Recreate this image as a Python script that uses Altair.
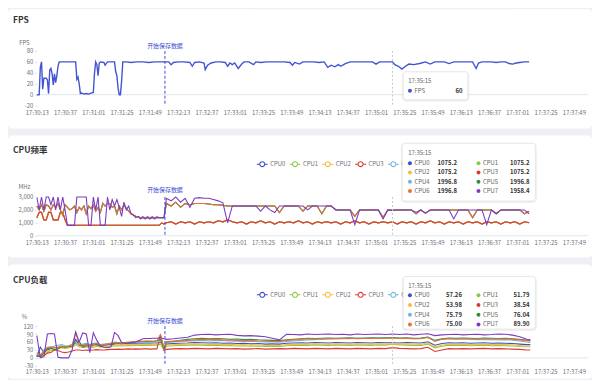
import altair as alt
import pandas as pd

FONT = "Noto Sans CJK SC"

# ---------------- time axis (seconds after 17:30:13) ----------------
X_MAX = 468
x_tick_secs = list(range(0, 457, 24))
TIME_EXPR = "timeFormat(datetime(2024, 0, 1, 17, 30, 13 + datum.value), '%H:%M:%S')"
TIP_T = 302
TIP_LABEL = "17:35:15"
MARK_T = 108.8
MARK_LABEL = "开始保存数据"

# ---------------- FPS ----------------
fps_t = [0, 2, 3, 4, 5, 6, 8, 9, 10, 11,
         12, 13, 14, 15, 16, 17, 18, 19, 22, 26,
         30, 33, 34, 35, 36, 37, 38, 40, 42, 44,
         46, 48, 49, 50, 51, 52, 53, 54, 57, 58,
         60, 63, 66, 67, 68, 69, 70, 71, 72, 73,
         76, 80, 85, 90, 95, 100, 105, 109, 112, 114,
         116, 120, 125, 130, 132, 134, 138, 142, 143, 145,
         148, 152, 156, 160, 162, 164, 166, 168, 171, 174,
         176, 180, 184, 186, 190, 195, 200, 205, 210, 215,
         217, 219, 223, 226, 230, 235, 240, 244, 247, 250,
         253, 256, 258, 262, 266, 270, 275, 280, 285, 288,
         291, 295, 300, 302, 304, 307, 310, 313, 316, 320,
         325, 330, 334, 338, 342, 346, 350, 354, 358, 362,
         366, 370, 373, 375, 378, 382, 386, 390, 394, 398,
         401, 404, 407, 410, 414, 418]
fps_v = [0, 0, 50, 60, 10, 30, 30, 27, 2, 45,
         48, 38, 18, 38, 22, 35, 52, 60, 60, 60,
         60, 60, 28, 32, 20, 2, 3, 1, 2, 1,
         3, 4, 40, 60, 55, 35, 58, 60, 59, 54,
         60, 60, 60, 42, 35, 12, 0, 0, 25, 60,
         60, 59, 60, 60, 59, 60, 60, 60, 60, 55,
         59, 60, 60, 59, 52, 59, 60, 58, 46, 54,
         58, 60, 60, 59, 52, 58, 55, 58, 48, 56,
         60, 60, 55, 60, 59, 60, 60, 60, 60, 59,
         54, 59, 56, 60, 60, 60, 59, 60, 50, 54,
         51, 55, 52, 57, 60, 60, 60, 60, 60, 56,
         60, 60, 60, 60, 55, 52, 47, 52, 56, 55,
         57, 60, 56, 60, 60, 60, 57, 60, 60, 60,
         60, 60, 48, 58, 60, 60, 60, 59, 60, 60,
         57, 56, 58, 59, 60, 60]

# ---------------- CPU series ----------------
cpu_names = ["CPU0", "CPU1", "CPU2", "CPU3", "CPU4", "CPU5", "CPU6", "CPU7"]
cpu_colors = ["#3d4fc4", "#8cc84b", "#f5bd3c", "#dc3b33",
              "#72b5e0", "#2f8f46", "#ec7033", "#7c3cc0"]
FPS_COLOR = "#4154d1"

# CPU frequency (MHz). CPU0-3 share one clock, CPU4-6 another, CPU7 its own.
freq_little_t = [0, 2, 4, 6, 8, 10, 12, 14, 16, 18, 20, 22, 24, 26, 104, 106, 108] + list(range(110, 419, 4))
freq_little_v = [1382.4, 1804.8, 1804.8, 1228.8, 1228.8, 1804.8, 1804.8, 1228.8, 1228.8, 1228.8,
                 1804.8, 1804.8, 1228.8, 806.4, 806.4, 998.4, 902.4] + [
    998.4, 1075.2, 902.4, 1075.2, 998.4, 1075.2, 902.4, 1075.2, 998.4, 1075.2,
    998.4, 1152.0, 1075.2, 1228.8, 1075.2, 998.4, 1075.2, 902.4, 1075.2, 998.4,
    1152.0, 998.4, 1075.2, 902.4, 1075.2, 998.4, 1075.2, 998.4, 1152.0, 998.4,
    1075.2, 902.4, 1075.2, 998.4, 1075.2, 998.4, 1075.2, 902.4, 1075.2, 998.4,
    1152.0, 998.4, 1075.2, 902.4, 1075.2, 998.4, 1075.2, 998.4, 1075.2, 902.4,
    1075.2, 998.4, 1075.2, 902.4, 1075.2, 998.4, 1152.0, 998.4, 1075.2, 902.4,
    1075.2, 998.4, 1075.2, 902.4, 1075.2, 998.4, 1075.2, 902.4, 1075.2, 998.4,
    1075.2, 902.4, 1075.2, 998.4, 1075.2, 902.4, 1075.2, 998.4]

freq_grid_t = list(range(0, 109, 2)) + list(range(110, 419, 4))
freq_big_v = [
    2300, 2000, 2400, 1900, 2400, 2300, 2000, 2400, 2200, 2500,
    2000, 1600, 2400, 2200, 2000, 2100, 2300, 1800, 2200, 2000,
    2300, 1700, 2300, 2100, 2400, 1900, 2200, 1800, 2500, 2300,
    2500, 2500, 2200, 2300, 1700, 2300, 2000, 2400, 2100, 1900,
    1700, 1600, 1500, 1450, 1400, 1420, 1400, 1420, 1400, 1420,
    1400, 1420, 1400, 1400, 1400] + [
    2500, 2300, 2600, 2200, 2500, 2400, 2500, 2500, 2500, 2450,
    2400, 2400, 2350, 2300, 2304, 2304, 2304, 2304, 2304, 2304,
    2304, 2304, 2304, 2304, 1800, 2304, 2304, 2304, 2304, 1900,
    2304, 2304, 2304, 1700, 2304, 2304, 1996.8, 1996.8, 1996.8, 1996.8,
    1500, 1996.8, 1996.8, 1996.8, 1996.8, 1996.8, 1400, 1996.8, 1996.8, 1996.8,
    1996.8, 1996.8, 1996.8, 1700, 1996.8, 1750, 1996.8, 1996.8, 1996.8, 1996.8,
    1996.8, 1996.8, 1996.8, 1996.8, 1996.8, 1400, 1996.8, 1996.8, 1996.8, 1996.8,
    1700, 1996.8, 1996.8, 1996.8, 1996.8, 1996.8, 1700, 1900]
freq_prime_v = [
    3000, 2000, 3000, 2000, 3000, 3000, 2400, 3000, 2000, 3000,
    2000, 3000, 2000, 800, 800, 800, 800, 3000, 3000, 3000,
    3000, 3000, 800, 800, 3000, 2000, 3000, 800, 800, 800,
    3000, 2000, 2800, 2300, 2800, 2200, 1500, 2600, 2000, 2300,
    1700, 1600, 1400, 1500, 1300, 1450, 1300, 1450, 1300, 1450,
    1300, 1450, 1400, 1400, 1400] + [
    2900, 2700, 3000, 2600, 2900, 2200, 2900, 2950, 2900, 2900,
    2800, 2700, 2550, 1000, 2304, 2304, 2304, 2304, 2304, 2304,
    1900, 2304, 2000, 1800, 2304, 2304, 2304, 2304, 2304, 2304,
    2000, 2304, 2304, 2304, 2304, 2304, 1996.8, 1996.8, 1996.8, 1996.8,
    850, 1996.8, 1996.8, 1996.8, 1996.8, 1996.8, 1300, 1996.8, 1958.4, 1996.8,
    1996.8, 1996.8, 1996.8, 1800, 1996.8, 1750, 1996.8, 1996.8, 1996.8, 1996.8,
    1996.8, 1300, 1996.8, 1996.8, 1996.8, 1996.8, 1996.8, 1996.8, 850, 1996.8,
    1700, 1996.8, 1996.8, 1996.8, 1996.8, 1996.8, 1996.8, 1700]

# CPU load (%)
load_t = list(range(0, 109, 3)) + list(range(110, 417, 6)) + [419]
load_cpu0 = [5, 40, 20, 30, 35, 38, 40, 42, 40, 44, 45, 70, 48, 46, 50, 44, 48, 50, 46, 48,
             50, 50, 52, 54, 52, 54, 55, 54, 55, 56, 55, 56, 55, 56, 56, 60, 30] + [
    52, 54, 55, 56, 58, 57, 56, 57, 55, 56, 54, 55, 53, 54, 52, 53, 52, 55, 56, 57,
    56, 58, 57, 56, 58, 57, 56, 58, 57, 56, 58, 57, 57.26, 56, 58, 57, 56, 61, 48, 54,
    57, 56, 57, 55, 56, 57, 55, 56, 55, 54, 52, 50, 50]
load_cpu1 = [8, 10, 12, 20, 28, 30, 34, 38, 36, 38, 40, 50, 42, 40, 42, 38, 40, 44, 40, 42,
             43, 44, 45, 46, 45, 46, 47, 46, 47, 48, 47, 48, 47, 48, 48, 52, 28] + [
    44, 46, 47, 48, 49, 48, 47, 48, 46, 47, 45, 46, 44, 45, 43, 44, 43, 46, 47, 48,
    47, 49, 48, 47, 49, 48, 47, 49, 48, 47, 49, 48, 51.79, 49, 48, 47, 47, 52, 38, 44,
    48, 47, 48, 46, 47, 48, 46, 47, 46, 45, 43, 42, 42]
load_cpu2 = [10, 5, 15, 25, 30, 35, 38, 40, 38, 40, 42, 55, 44, 42, 45, 40, 44, 46, 42, 44,
             45, 46, 48, 50, 48, 50, 50, 51, 50, 51, 50, 52, 51, 52, 51, 55, 30] + [
    48, 50, 51, 52, 53, 52, 51, 52, 50, 51, 49, 50, 48, 49, 47, 48, 47, 50, 51, 52,
    51, 53, 52, 51, 53, 52, 51, 53, 52, 51, 53, 52, 53.98, 52, 53, 52, 51, 56, 42, 48,
    52, 51, 52, 50, 51, 52, 50, 51, 50, 49, 47, 45, 45]
load_cpu3 = [5, 6, 8, 18, 20, 30, 28, 22, 20, 22, 26, 30, 30, 28, 30, 29, 30, 31, 30, 30,
             31, 32, 32, 33, 32, 33, 34, 33, 34, 33, 34, 34, 33, 34, 34, 88, 28] + [
    32, 34, 35, 34, 36, 35, 34, 36, 35, 34, 35, 33, 34, 35, 33, 34, 35, 34, 36, 35,
    34, 36, 35, 34, 36, 35, 34, 36, 35, 34, 36, 35, 38.54, 36, 35, 34, 35, 40, 24, 30,
    35, 34, 35, 34, 35, 36, 34, 35, 34, 33, 32, 30, 30]
load_cpu4 = [15, 8, 30, 38, 40, 45, 48, 50, 46, 45, 50, 55, 50, 52, 55, 50, 55, 56, 50, 52,
             54, 55, 56, 58, 56, 57, 58, 57, 58, 58, 57, 58, 57, 58, 58, 65, 34] + [
    58, 60, 62, 63, 65, 66, 64, 66, 65, 64, 63, 62, 63, 61, 60, 60, 59, 62, 64, 66,
    68, 69, 70, 71, 72, 73, 72, 74, 73, 74, 75, 74, 75.79, 74, 73, 72, 72, 78, 62, 70,
    72, 70, 71, 70, 69, 70, 69, 68, 69, 67, 64, 60, 58]
load_cpu5 = [10, 5, 20, 35, 38, 30, 35, 42, 40, 42, 45, 60, 62, 40, 45, 48, 52, 50, 44, 48,
             50, 52, 55, 57, 55, 56, 58, 60, 62, 63, 62, 63, 62, 63, 64, 70, 35] + [
    60, 62, 66, 70, 72, 74, 72, 73, 72, 70, 71, 69, 70, 68, 67, 66, 65, 68, 70, 72,
    74, 73, 74, 75, 74, 75, 76, 74, 75, 76, 75, 76, 76.04, 75, 76, 74, 75, 79, 66, 72,
    75, 74, 75, 74, 73, 75, 74, 73, 74, 72, 70, 66, 65]
load_cpu6 = [20, 10, 25, 40, 42, 38, 40, 45, 42, 45, 50, 95, 50, 48, 52, 45, 50, 55, 48, 50,
             52, 55, 60, 58, 56, 58, 60, 60, 62, 64, 63, 64, 64, 63, 65, 88, 40] + [
    62, 64, 65, 66, 68, 70, 69, 70, 68, 67, 66, 65, 66, 64, 63, 62, 62, 66, 68, 70,
    72, 71, 72, 73, 72, 73, 74, 72, 73, 74, 73, 74, 75.00, 73, 74, 72, 73, 77, 64, 70,
    73, 72, 73, 72, 71, 73, 72, 71, 72, 70, 68, 65, 64]
load_cpu7 = [84, 0, 5, 90, 92, 90, 2, 0, 0, 0, 30, 98, 60, 94, 90, 20, 95, 66, 45, 40,
             38, 42, 96, 84, 58, 55, 56, 58, 60, 66, 72, 73, 73, 74, 74, 76, 72] + [
    70, 72, 75, 78, 86, 88, 89, 87, 88, 89, 85, 83, 84, 82, 80, 74, 68, 89, 88, 87,
    90, 88, 89, 90, 88, 89, 87, 90, 88, 89, 90, 88, 89.90, 88, 90, 87, 89, 91, 84, 87,
    88, 89, 87, 88, 89, 87, 88, 90, 89, 86, 80, 70, 68]

# ---------------- tables ----------------
fps_df = pd.DataFrame({"t": fps_t, "v": fps_v})

freq_source = {
    "CPU0": (freq_little_t, freq_little_v), "CPU1": (freq_little_t, freq_little_v),
    "CPU2": (freq_little_t, freq_little_v), "CPU3": (freq_little_t, freq_little_v),
    "CPU4": (freq_grid_t, freq_big_v), "CPU5": (freq_grid_t, freq_big_v),
    "CPU6": (freq_grid_t, freq_big_v), "CPU7": (freq_grid_t, freq_prime_v),
}
freq_df = pd.concat([pd.DataFrame({"t": freq_source[n][0], "v": freq_source[n][1], "series": n})
                     for n in cpu_names], ignore_index=True)

load_source = [load_cpu0, load_cpu1, load_cpu2, load_cpu3, load_cpu4, load_cpu5, load_cpu6, load_cpu7]
load_df = pd.concat([pd.DataFrame({"t": load_t, "v": vals, "series": n})
                     for n, vals in zip(cpu_names, load_source)], ignore_index=True)


def tip_table(df):
    tip = df[df["t"] == TIP_T].copy()
    tip["col"] = [cpu_names.index(s) % 2 for s in tip["series"]]
    tip["row"] = [cpu_names.index(s) // 2 for s in tip["series"]]
    return tip


fps_tip = fps_df[fps_df["t"] == TIP_T].copy()
fps_tip["series"] = "FPS"
fps_tip["col"] = 0
fps_tip["row"] = 0

# ---------------- styling helpers ----------------
W = 555
GRAY = "#6e7079"
MARK_COLOR = "#3b4fd6"
one = pd.DataFrame({"k": [0]})
color_scale = alt.Scale(domain=cpu_names, range=cpu_colors)
cpu_color = alt.Color("series:N", scale=color_scale, legend=None)


def x_enc(lp):
    return alt.X("t:Q", scale=alt.Scale(domain=[0, X_MAX], nice=False, zero=False),
                 axis=alt.Axis(values=x_tick_secs, labelExpr=TIME_EXPR, title=None, grid=False,
                               domain=False, ticks=False, labelColor=GRAY, labelFontSize=6,
                               labelPadding=lp, labelOverlap=False, labelFlush=False, zindex=1))


def y_enc(domain, ticks, label_expr, unit, unit_y):
    return alt.Y("v:Q", scale=alt.Scale(domain=domain, nice=False, zero=False),
                 axis=alt.Axis(values=ticks, labelExpr=label_expr, title=unit, titleAngle=0,
                               titleX=-13, titleY=unit_y, titleAlign="center",
                               titleBaseline="alphabetic", titleFontSize=6,
                               titleFontWeight="normal", titleColor=GRAY, grid=False,
                               domain=False, ticks=True, tickSize=2, tickColor="#dcdcdc",
                               labelColor=GRAY, labelFontSize=6, labelPadding=2, zindex=1))


def data_layer(lines, x, y, mark_y):
    zero = alt.Chart(pd.DataFrame({"v": [0]})).mark_rule(color="#e0e6f1", strokeWidth=1).encode(y=y)
    mk = pd.DataFrame({"t": [MARK_T]})
    marker = alt.Chart(mk).mark_rule(color=MARK_COLOR, strokeWidth=1, strokeDash=[3, 2]).encode(x=x)
    marker_txt = alt.Chart(mk).mark_text(text=MARK_LABEL, color=MARK_COLOR, fontSize=6,
                                         baseline="middle").encode(x=x, y=alt.value(mark_y))
    pointer = alt.Chart(pd.DataFrame({"t": [TIP_T]})).mark_rule(
        color="#c9c9c9", strokeWidth=1, strokeDash=[2, 2]).encode(x=x)
    return alt.layer(zero, lines, marker, marker_txt, pointer)


def card(top, bottom):
    return alt.Chart(one).mark_rect(color="white", cornerRadius=4).encode(
        x=alt.value(-29), x2=alt.value(W + 4), y=alt.value(top), y2=alt.value(bottom))


def title_text(text, y):
    return alt.Chart(one).mark_text(text=text, align="left", baseline="middle", fontSize=8.5,
                                    fontWeight="bold", color="#333333").encode(
        x=alt.value(-24), y=alt.value(y))


LEG_PATH = "M-1,0L-0.45,0M0.45,0L1,0M0.45,0A0.45,0.45,0,1,1,-0.45,0A0.45,0.45,0,1,1,0.45,0Z"


def legend_layers(y):
    lx = alt.X("series:N", scale=alt.Scale(type="point", domain=cpu_names, range=[227, 458], padding=0),
               axis=None)
    base = alt.Chart(pd.DataFrame({"series": cpu_names}))
    sym = base.mark_point(shape=LEG_PATH, filled=False, size=121, strokeWidth=1.1, opacity=1).encode(
        x=lx, y=alt.value(y), color=cpu_color)
    txt = base.mark_text(align="left", baseline="middle", dx=8, fontSize=6, color=GRAY).encode(
        x=lx, y=alt.value(y), text="series:N")
    return [sym, txt]


def tooltip_layers(box, header_xy, tip_df, dot_range, val_range, row_range, row_max, fmt, color_enc):
    x0, x1, y0, y1 = box
    shadow = alt.Chart(one).mark_rect(color="#000000", opacity=0.06, cornerRadius=4).encode(
        x=alt.value(x0 - 1.5), x2=alt.value(x1 + 1.5), y=alt.value(y0 - 0.5), y2=alt.value(y1 + 2))
    rect = alt.Chart(one).mark_rect(fill="white", stroke="#e4e4e4", strokeWidth=0.8, cornerRadius=3).encode(
        x=alt.value(x0), x2=alt.value(x1), y=alt.value(y0), y2=alt.value(y1))
    header = alt.Chart(one).mark_text(text=TIP_LABEL, align="left", baseline="middle", fontSize=6,
                                      color="#666666").encode(x=alt.value(header_xy[0]),
                                                              y=alt.value(header_xy[1]))
    yr = alt.Y("row:Q", scale=alt.Scale(domain=[0, row_max], range=row_range, nice=False, zero=False),
               axis=None)
    xd = alt.X("col:Q", scale=alt.Scale(domain=[0, 1], range=dot_range, nice=False, zero=False), axis=None)
    xv = alt.X("col:Q", scale=alt.Scale(domain=[0, 1], range=val_range, nice=False, zero=False), axis=None)
    base = alt.Chart(tip_df)
    dots = base.mark_circle(size=16, opacity=1).encode(x=xd, y=yr, color=color_enc)
    labels = base.mark_text(align="left", baseline="middle", dx=4.5, fontSize=6, color="#666666").encode(
        x=xd, y=yr, text="series:N")
    values = base.mark_text(align="right", baseline="middle", fontSize=6, fontWeight="bold",
                            color="#333333").encode(x=xv, y=yr, text=alt.Text("v:Q", format=fmt))
    return [shadow, rect, header, dots, labels, values]


# ---------------- panel 1: FPS ----------------
x1 = x_enc(4)
y1 = y_enc([-20, 80], [-20, 0, 20, 40, 60, 80], "'' + datum.value", "FPS", -7)
fps_lines = alt.Chart(fps_df).mark_line(color=FPS_COLOR, strokeWidth=1.4).encode(x=x1, y=y1)
p1 = alt.layer(
    card(-42, 78), title_text("FPS", -31),
    data_layer(fps_lines, x1, y1, -5),
    *tooltip_layers((369, 434, 21, 49), (374, 30.7), fps_tip, [375.7, 444.7], [428.7, 496],
                    [40, 49], 1, ".0f", alt.value(FPS_COLOR)),
).properties(width=W, height=55).resolve_scale(x="independent", y="independent")

# ---------------- panel 2: CPU frequency ----------------
x2 = x_enc(4)
y2 = y_enc([0, 3000], [0, 1000, 2000, 3000], "format(datum.value, ',')", "MHz", -9)
freq_lines = alt.Chart(freq_df).mark_line(strokeWidth=1.1).encode(x=x2, y=y2, color=cpu_color)
p2 = alt.layer(
    card(-62, 61), title_text("CPU频率", -47.5),
    data_layer(freq_lines, x2, y2, -7),
    *legend_layers(-33),
    *tooltip_layers((368, 502, -54, 4), (374, -44), tip_table(freq_df), [375.7, 444.7], [423, 496],
                    [-34, -6], 3, ".1f", cpu_color),
).properties(width=W, height=39).resolve_scale(x="independent", y="independent")

# ---------------- panel 3: CPU load ----------------
x3 = x_enc(3)
y3 = y_enc([-30, 120], [-30, 0, 30, 60, 90, 120], "'' + datum.value", "%", -8)
load_lines = alt.Chart(load_df).mark_line(strokeWidth=1.1).encode(x=x3, y=y3, color=cpu_color)
p3 = alt.layer(
    card(-62, 53), title_text("CPU负载", -46),
    data_layer(load_lines, x3, y3, -5),
    *legend_layers(-31.5),
    *tooltip_layers((369, 502, -50, 3), (374, -40.3), tip_table(load_df), [375.7, 444.7], [428, 496],
                    [-31, -1.7], 3, ".2f", cpu_color),
).properties(width=W, height=40).resolve_scale(x="independent", y="independent")

chart = alt.vconcat(p1, p2, p3, spacing=7).properties(
    padding=0, background="#eef0f4"
).configure(font=FONT).configure_view(strokeWidth=0)

chart.save("out.html", embed_options={"renderer": "svg", "actions": False})
